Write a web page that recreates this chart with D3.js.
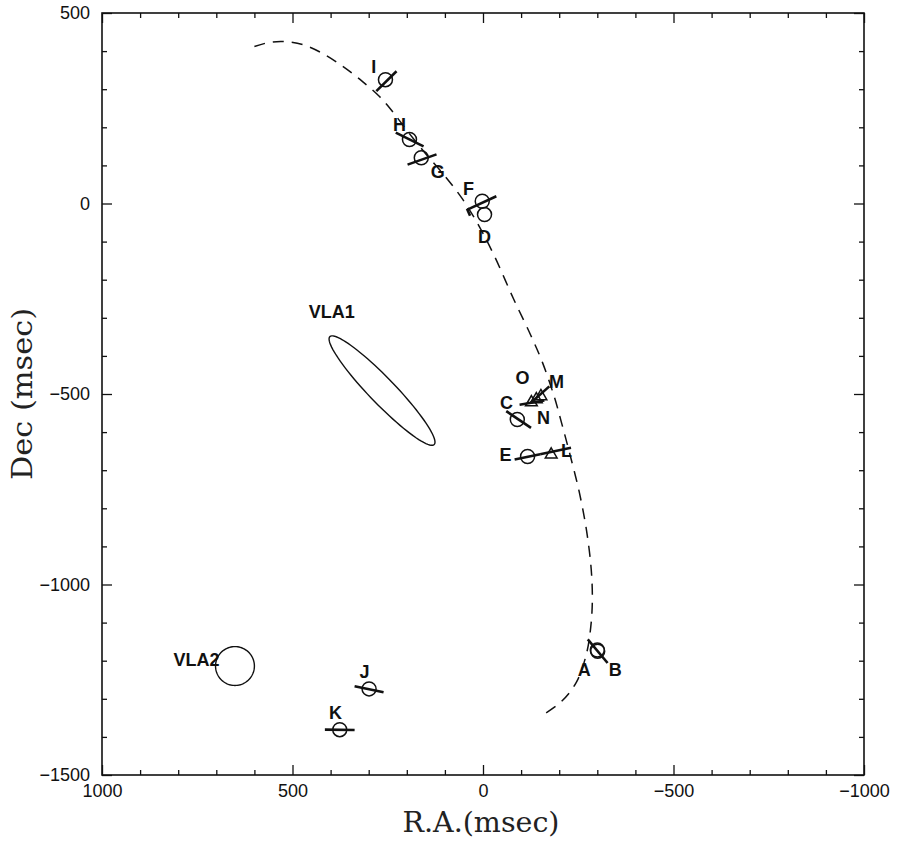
<!DOCTYPE html>
<html>
<head>
<meta charset="utf-8">
<script src="https://cdn.jsdelivr.net/npm/d3@7"></script>
<style>
  body { margin: 0; background: #fff; }
  .tick text { font-family: "Liberation Sans", Arial, sans-serif; font-size: 18px; fill: #111; }
  .lbl { font-family: "Liberation Sans", Arial, sans-serif; font-size: 18px; font-weight: bold; fill: #111; }
  .title { font-family: "DejaVu Serif", serif; font-size: 27px; fill: #222; }
</style>
</head>
<body>
<div id="chart"></div>
<script>
// axis ranges (msec)
var raDomain = [1000, -1000];
var decDomain = [500, -1500];
var majorTicks = [1000, 500, 0, -500, -1000];
var majorTicksY = [500, 0, -500, -1000, -1500];

// dashed orbit fit, [R.A., Dec]
var orbit = [[600,412],[560,423],[520,425],[473,417],[423,395],[368,360],[316,320],[271,280],
  [237,241],[200,192],[150,130],[100,72],[54,12],[10,-60],[-30,-138],[-80,-250],[-125,-345],
  [-156,-417],[-187,-507],[-206,-575],[-227,-654],[-253,-759],[-272,-860],[-284,-960],
  [-287,-1040],[-283,-1110],[-272,-1180],[-246,-1255],[-206,-1307],[-156,-1343]];

// circle epochs: name, ra, dec
var circles = [["A",-300,-1172],["B",-301,-1175],["C",-90,-567],["D",-4,-29],["E",-117,-664],
  ["F",2,6],["G",162,120],["H",193,168],["I",256,325],["J",299,-1274],["K",376,-1381]];

// triangle epochs
var triangles = [["L",-179,-659],["M",-152,-506],["N",-140,-514],["O",-127,-522]];

// position-angle bars: ra1, dec1, ra2, dec2
var bars = [[-275,-1144,-327,-1206],[-61,-545,-126,-589],[42,-14,34,-32],[-83,-672,-150,-658],
  [41,-16,-35,19],[198,102,122,129],[229,186,156,150],[280,295,227,347],
  [337,-1267,261,-1283],[415,-1381,337,-1382],[-150,-658,-231,-641],[-126,-523,-174,-480],
  [-96,-528,-161,-517]];

// text labels: text, ra, dec
var labels = [["I",287,360],["H",219,207],["G",119,84],["F",38,39],["D",-4,-87],["O",-104,-457],
  ["M",-193,-467],["C",-62,-522],["N",-159,-562],["E",-59,-659],["L",-219,-648],["A",-266,-1223],
  ["B",-347,-1223],["J",311,-1228],["K",387,-1336],["VLA1",397,-283],["VLA2",752,-1197]];

// VLA positions: ra, dec, semi-major, semi-minor, PA (deg)
var vla1 = [265, -491, 197, 34, 44];
var vla2 = [651, -1214, 51, 51, 0];

var margin = {top: 13, left: 102},
    width = 762,
    height = 762;

var x = d3.scaleLinear().domain(raDomain).range([0, width]);
var y = d3.scaleLinear().domain(decDomain).range([0, height]);

var svg = d3.select("#chart").append("svg")
    .attr("width", 899)
    .attr("height", 845)
  .append("g")
    .attr("transform", `translate(${margin.left},${margin.top})`);

var minorX = d3.range(1000, -1001, -100).filter(d => d % 500 != 0);
var minorY = d3.range(500, -1501, -100).filter(d => d % 500 != 0);

function axisSet(axisFn, scale, pos, pad) {
  var g = svg.append("g").attr("transform", pos);
  g.append("g").call(axisFn(scale).tickValues(scale === x ? minorX : minorY)
      .tickSize(-5).tickFormat(""));
  g.append("g").call(axisFn(scale)
      .tickValues(scale === x ? majorTicks : majorTicksY)
      .tickSize(-10).tickPadding(pad || 0)
      .tickFormat(pad ? d3.format("d") : ""));
  g.selectAll(".domain").remove();
  g.selectAll("line").attr("stroke", "#111").attr("stroke-width", 1.3);
  return g;
}

axisSet(d3.axisBottom, x, `translate(0,${height})`, 9);
axisSet(d3.axisTop, x, "translate(0,0)", 0);
axisSet(d3.axisLeft, y, "translate(0,0)", 12);
axisSet(d3.axisRight, y, `translate(${width},0)`, 0);

svg.selectAll(".tick text").attr("fill", "#111");

svg.append("rect")
    .attr("width", width)
    .attr("height", height)
    .attr("fill", "none")
    .attr("stroke", "#111")
    .attr("stroke-width", 1.6);

// orbit
svg.append("path")
    .datum(orbit)
    .attr("fill", "none")
    .attr("stroke", "#111")
    .attr("stroke-width", 1.5)
    .attr("stroke-dasharray", "11,8")
    .attr("d", d3.line().x(d => x(d[0])).y(d => y(d[1])).curve(d3.curveCatmullRom));

// VLA error ellipses
function ellipse(e) {
  var pa = e[4] * Math.PI / 180;
  return d3.range(0, 361, 4).map(t => {
    var a = t * Math.PI / 180;
    var u = e[2] * Math.cos(a), v = e[3] * Math.sin(a);
    return [e[0] + u * Math.sin(pa) + v * Math.cos(pa), e[1] + u * Math.cos(pa) - v * Math.sin(pa)];
  });
}
svg.selectAll(".vla")
    .data([vla1, vla2])
  .enter().append("path")
    .attr("class", "vla")
    .attr("fill", "none")
    .attr("stroke", "#111")
    .attr("stroke-width", 1.4)
    .attr("d", d => d3.line().x(p => x(p[0])).y(p => y(p[1]))(ellipse(d)) + "Z");

svg.selectAll(".bar")
    .data(bars)
  .enter().append("line")
    .attr("class", "bar")
    .attr("x1", d => x(d[0])).attr("y1", d => y(d[1]))
    .attr("x2", d => x(d[2])).attr("y2", d => y(d[3]))
    .attr("stroke", "#111")
    .attr("stroke-width", 2.6);

svg.selectAll(".circ")
    .data(circles)
  .enter().append("circle")
    .attr("class", "circ")
    .attr("cx", d => x(d[1]))
    .attr("cy", d => y(d[2]))
    .attr("r", 7)
    .attr("fill", "none")
    .attr("stroke", "#111")
    .attr("stroke-width", 1.5);

svg.selectAll(".tri")
    .data(triangles)
  .enter().append("path")
    .attr("class", "tri")
    .attr("transform", d => `translate(${x(d[1])},${y(d[2])})`)
    .attr("d", d3.symbol().type(d3.symbolTriangle).size(60))
    .attr("fill", "none")
    .attr("stroke", "#111")
    .attr("stroke-width", 1.5);

svg.selectAll(".lbl")
    .data(labels)
  .enter().append("text")
    .attr("class", "lbl")
    .attr("x", d => x(d[1]))
    .attr("y", d => y(d[2]))
    .attr("dy", "0.36em")
    .attr("text-anchor", "middle")
    .text(d => d[0]);

// axis titles
svg.append("text")
    .attr("class", "title")
    .attr("x", width / 2 - 2)
    .attr("y", height + 57)
    .attr("text-anchor", "middle")
    .attr("textLength", 157)
    .attr("lengthAdjust", "spacingAndGlyphs")
    .text("R.A.(msec)");

svg.append("text")
    .attr("class", "title")
    .attr("transform", `translate(${-70},${height / 2}) rotate(-90)`)
    .attr("text-anchor", "middle")
    .attr("textLength", 172)
    .attr("lengthAdjust", "spacingAndGlyphs")
    .text("Dec (msec)");
</script>
</body>
</html>
